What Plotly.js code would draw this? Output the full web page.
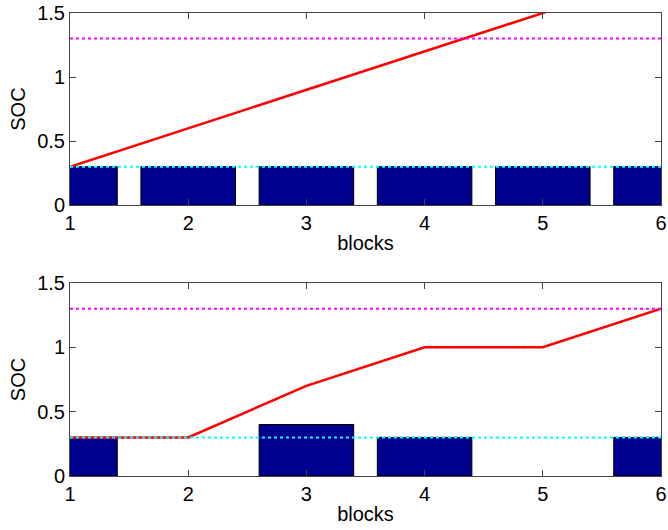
<!DOCTYPE html>
<html>
<head>
<meta charset="utf-8">
<script src="https://cdn.plot.ly/plotly-3.0.1.min.js"></script>
<style>html,body{margin:0;padding:0;background:#fff;}#chart{width:668px;height:530px;}</style>
</head>
<body>
<div id="chart"></div>
<script>
const blocks = [1, 2, 3, 4, 5, 6];
const barsTop = [0.3, 0.3, 0.3, 0.3, 0.3, 0.3];
const socTop = [0.3, 0.6, 0.9, 1.2, 1.5, 1.8];
const barsBottom = [0.3, 0, 0.4, 0.3, 0, 0.3];
const socBottom = [0.3, 0.3, 0.7, 1.0, 1.0, 1.3];
const socMax = 1.3;
const socMin = 0.3;
const xTicks = [1, 2, 3, 4, 5, 6];
const yTicks = [0, 0.5, 1, 1.5];
const yTickText = ['0', '0.5', '1', '1.5'];

const navy = '#00008F';
function barTrace(y, ax) {
  return {type: 'bar', x: blocks, y: y.map(v => v === 0 ? null : v), width: 0.8, xaxis: 'x' + ax, yaxis: 'y' + ax,
    marker: {color: navy, line: {color: '#000', width: 1}}, showlegend: false, hoverinfo: 'skip'};
}
function lineTrace(y, ax, color, dash, w) {
  return {type: 'scatter', mode: 'lines', x: blocks, y: y, xaxis: 'x' + ax, yaxis: 'y' + ax,
    line: {color: color, width: w, dash: dash}, showlegend: false, cliponaxis: true};
}
function hline(val, ax, color) {
  return {type: 'scatter', mode: 'lines', x: [blocks[0], blocks[blocks.length - 1]], y: [val, val],
    xaxis: 'x' + ax, yaxis: 'y' + ax, line: {color: color, width: 2, dash: 'dot'}, showlegend: false};
}
const traces = [
  barTrace(barsTop, ''), lineTrace(socTop, '', '#FF0000', 'solid', 2.5), hline(socMax, '', '#FF00FF'), hline(socMin, '', '#00FFFF'),
  barTrace(barsBottom, '2'), lineTrace(socBottom, '2', '#FF0000', 'solid', 2.5), hline(socMax, '2', '#FF00FF'), hline(socMin, '2', '#00FFFF')
];
const font = {family: 'Liberation Sans, Arial, sans-serif', size: 20, color: '#000'};
function xax(anchor) {
  return {range: [1, 6], tickvals: xTicks, ticks: 'inside', ticklen: 6, tickcolor: '#444',
    showline: true, linecolor: '#444', linewidth: 1, mirror: 'ticks', showgrid: false, zeroline: false,
    anchor: anchor, tickfont: font, title: {text: 'blocks', font: font, standoff: 2}};
}
function yax(anchor, domain) {
  return {range: [0, 1.5], tickvals: yTicks, ticktext: yTickText, ticks: 'inside', ticklen: 6, tickcolor: '#444',
    showline: true, linecolor: '#444', linewidth: 1, mirror: 'ticks', showgrid: false, zeroline: false,
    anchor: anchor, domain: domain, tickfont: font, title: {text: 'SOC', font: font, standoff: 6}};
}
const layout = {
  width: 668, height: 530, margin: {l: 70, r: 7, t: 13, b: 54},
  paper_bgcolor: '#fff', plot_bgcolor: '#fff', barmode: 'overlay', font: font,
  xaxis: xax('y'), yaxis: yax('x', [0.585, 1]),
  xaxis2: xax('y2'), yaxis2: yax('x2', [0, 0.417])
};
Plotly.newPlot('chart', traces, layout, {staticPlot: true});
</script>
</body>
</html>
